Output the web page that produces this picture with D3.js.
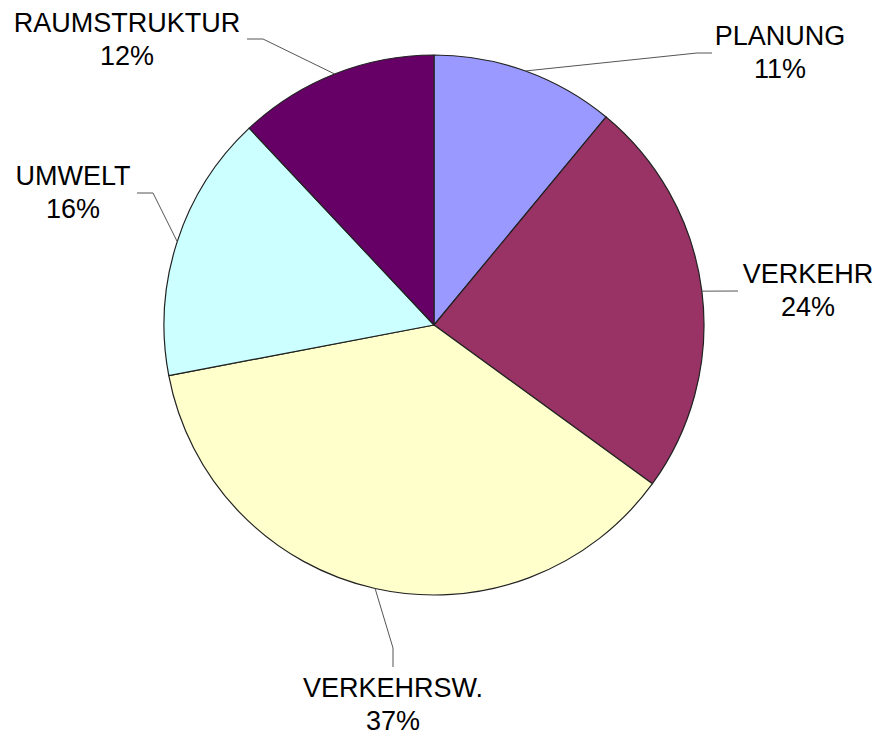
<!DOCTYPE html>
<html>
<head>
<meta charset="utf-8">
<script src="https://cdn.jsdelivr.net/npm/d3@7/dist/d3.min.js"></script>
<style>
  html, body { margin: 0; padding: 0; background: #fff; }
  svg { display: block; }
  text { font-family: "Liberation Sans", Arial, sans-serif; fill: #000; }
</style>
</head>
<body>
<svg id="chart" width="876" height="736"></svg>
<script>
// Share of topics, clockwise from 12 o'clock
const categories = ["PLANUNG", "VERKEHR", "VERKEHRSW.", "UMWELT", "RAUMSTRUKTUR"];
const values = [11, 24, 37, 16, 12];
const colors = ["#9999FF", "#993366", "#FFFFCC", "#CCFFFF", "#660066"];

// Label placement: text centre, first baseline, and the elbow points of the leader line
const labelLayout = [
  { x: 780, y: 45,  path: [[697, 53], [712, 53]] },
  { x: 808, y: 283, path: [[738, 291]] },
  { x: 393, y: 697, path: [[393, 648], [393, 667]] },
  { x: 73,  y: 185, path: [[153, 193], [137, 193]] },
  { x: 127, y: 32,  path: [[263, 39], [247, 39]] }
];

const cx = 434, cy = 325, radius = 270;
const svg = d3.select("#chart");
const g = svg.append("g").attr("transform", `translate(${cx},${cy})`);

const data = categories.map((c, i) => ({ name: c, value: values[i], color: colors[i], layout: labelLayout[i] }));

const pie = d3.pie().value(d => d.value).sort(null);
const arc = d3.arc().innerRadius(0).outerRadius(radius);
const arcs = pie(data);

g.selectAll("path.slice")
  .data(arcs)
  .enter().append("path")
  .attr("class", "slice")
  .attr("d", arc)
  .attr("fill", d => d.data.color)
  .attr("stroke", "#222")
  .attr("stroke-width", 1.2)
  .attr("stroke-linejoin", "round");

// Leader lines from the slice's mid-angle on the rim to the label
const line = d3.line();
svg.selectAll("path.leader")
  .data(arcs)
  .enter().append("path")
  .attr("class", "leader")
  .attr("fill", "none")
  .attr("stroke", "#555")
  .attr("stroke-width", 1)
  .attr("d", d => {
    const a = (d.startAngle + d.endAngle) / 2;
    const start = [cx + radius * Math.sin(a), cy - radius * Math.cos(a)];
    return line([start, ...d.data.layout.path]);
  });

const total = d3.sum(values);
const labels = svg.selectAll("text.label")
  .data(arcs)
  .enter().append("text")
  .attr("class", "label")
  .attr("text-anchor", "middle")
  .style("font-size", "27px");

labels.append("tspan")
  .attr("x", d => d.data.layout.x)
  .attr("y", d => d.data.layout.y)
  .text(d => d.data.name);

labels.append("tspan")
  .attr("x", d => d.data.layout.x)
  .attr("y", d => d.data.layout.y + 33)
  .text(d => Math.round(d.data.value / total * 100) + "%");
</script>
</body>
</html>
